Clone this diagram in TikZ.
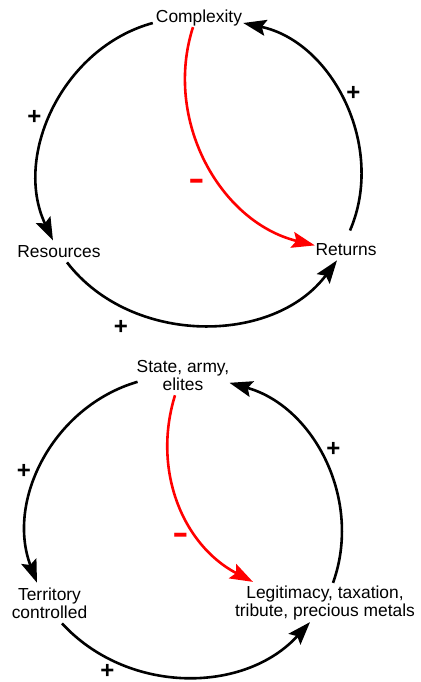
\documentclass[tikz,border=0pt]{standalone}
\usepackage{fontspec}
\setmainfont{Liberation Sans}
\usetikzlibrary{arrows.meta}
\begin{document}
\begin{tikzpicture}[x=1pt,y=-1pt,
  lbl/.style={font=\fontsize{17.4}{18.2}\selectfont, inner sep=0pt},
  lbltwo/.style={font=\fontsize{17.4}{18.2}\selectfont, inner sep=0pt, align=center},
  link/.style={line width=2.6pt, -{Stealth[length=23pt,width=16pt,inset=4pt]}},
  neg/.style={link, color=red},
  pol/.style={font=\bfseries\fontsize{24}{24}\selectfont, inner sep=0pt},
  negsign/.style={font=\fontsize{50}{50}\selectfont, inner sep=0pt, text=red, anchor=base}]
\useasboundingbox (0,0) rectangle (420,682);

% ---------- top loop ----------
\node[lbl, anchor=base] (cx)  at (199,23)  {Complexity};
\node[lbl, anchor=base] (res) at (59,257)  {Resources};
\node[lbl, anchor=base] (ret) at (346,255) {Returns};

\draw[link] ([shift={(-3,4.5)}]cx.west) to[out=195.3, in=115.4] ([shift={(-6,-4.3)}]res.north);
\draw[link] ([shift={(8,5)}]res.south) to[out=307.6, in=233.3] ([shift={(-9,5)}]ret.south);
\draw[link] ([shift={(4,-12.3)}]ret.north) to[out=66.7, in=-12] ([shift={(1,4.5)}]cx.east);
\draw[neg] ([shift={(-6,0.3)}]cx.south) to[out=252.2, in=166.2] ([shift={(-0.5,-3.7)}]ret.west);

\node[pol] (p1) at (34.5,117) {+};
\node[pol] (p2) at (353.3,93) {+};
\node[pol] (p3) at (121,327) {+};
\node[negsign] (m1) at (196.7,194.3) {-};

% ---------- bottom loop ----------
\node[lbltwo] (st)   at (183,375.8)  {State, army,\\elites};
\node[lbltwo] (terr) at (49.5,602.9) {Territory\\controlled};
\node[lbltwo] (leg)  at (325,602.9)  {Legitimacy, taxation,\\tribute, precious metals};

\draw[link] ([shift={(1,6)}]st.west) to[out=196.3, in=110.8] ([shift={(-12.5,-4.5)}]terr.north);
\draw[link] ([shift={(12.5,4.8)}]terr.south) to[out=312.6, in=227.8] ([shift={(-15,1.8)}]leg.south);
\draw[link] ([shift={(8,-2.6)}]leg.north) to[out=70.2, in=344.3] ([shift={(0,7)}]st.east);
\draw[neg] ([shift={(-8,4)}]st.south) to[out=252.9, in=152.4] ([shift={(-72,-3.6)}]leg.north);

\node[pol] (p4) at (24,471) {+};
\node[pol] (p5) at (333.3,449.5) {+};
\node[pol] (p6) at (107.3,671.5) {+};
\node[negsign] (m2) at (181,548.3) {-};
\end{tikzpicture}
\end{document}
